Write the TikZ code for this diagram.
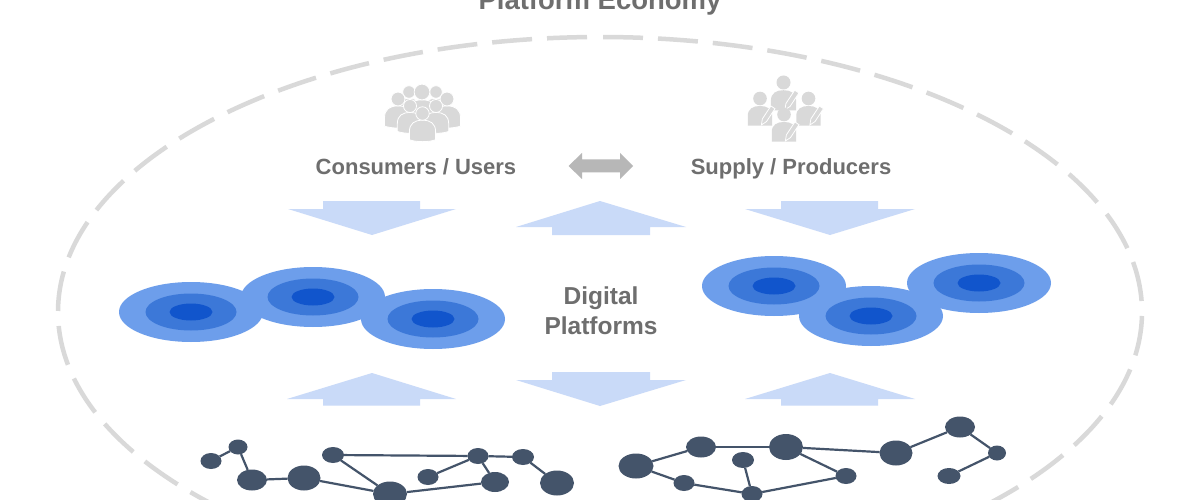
\documentclass[tikz,border=0pt]{standalone}
\usepackage{fontspec}
\setmainfont{Liberation Sans}
\usetikzlibrary{shapes.geometric}
\definecolor{ringa}{HTML}{6D9EEB}
\definecolor{ringb}{HTML}{3C78D8}
\definecolor{ringc}{HTML}{1155CC}
\definecolor{pale}{HTML}{C9DAF8}
\definecolor{lbl}{HTML}{6E6E6E}
\definecolor{icon}{HTML}{D9D9D9}
\definecolor{dbl}{HTML}{B7B7B7}
\definecolor{net}{HTML}{44546A}
\tikzset{
  ring/.style n args={3}{ellipse,fill=#1,minimum width=#2pt,minimum height=#3pt,inner sep=0pt,outer sep=0pt},
  hub/.style 2 args={ellipse,fill=net,minimum width=#1pt,minimum height=#2pt,inner sep=0pt,outer sep=0pt},
  link/.style={draw=net,line width=2.2pt},
  lab/.style={text=lbl,font=\bfseries\fontsize{22}{22}\selectfont,inner sep=0pt,anchor=base},
  biglab/.style={text=lbl,font=\bfseries\fontsize{24.5}{24.5}\selectfont,inner sep=0pt,anchor=base},
  blockarrow/.style={fill=pale},
  boundary/.style={draw=icon,line width=4.5pt},
  figure/.style={fill=icon,draw=white,line width=0.8pt},
  penstroke/.style={fill=icon,draw=white,line width=0.8pt}
}
\newcommand\platformdisc[3]{%
  \node[ring={ringa}{144}{60}] (#1a) at (#2,#3) {};
}
\newcommand\platformcore[3]{%
  \node[ring={ringb}{91}{37}] (#1b) at (#2,#3) {};
  \node[ring={ringc}{43}{17}] (#1c) at (#2,#3) {};
}
\newcommand\persona[3]{% x, y of head centre, head radius
  \begin{scope}[shift={(#1,#2)},scale=#3]
    \path[figure] (-2.05,4.1) -- (-2.05,2.9) .. controls (-2.05,1.5) and (-1.2,1.05) .. (0,1.05)
       .. controls (1.2,1.05) and (2.05,1.5) .. (2.05,2.9) -- (2.05,4.1) .. controls (1,4.5) and (-1,4.5) .. (-2.05,4.1) -- cycle;
    \path[figure] (0,0) circle (1.05);
  \end{scope}}
\newcommand\worker[3]{% x, y of head centre, head radius 
  \begin{scope}[shift={(#1,#2)},scale=#3]
    \path[fill=icon] (-1.8,4) -- (-1.8,2.6) .. controls (-1.8,1.5) and (-1,1.1) .. (0,1.1)
       .. controls (1,1.1) and (1.8,1.5) .. (1.8,2.6) -- (1.8,4) -- cycle;
    \path[fill=icon] (0,0) circle (1);
    \path[penstroke] (0.2,3.9) -- (0.35,3) -- (1.6,1.1) -- (2.2,1.5) -- (0.95,3.4) -- cycle;
  \end{scope}}
\begin{document}
\begin{tikzpicture}[x=1pt,y=-1pt]
\clip (0,0) rectangle (1200,500);
\fill[white] (0,0) rectangle (1200,500);

% outer dashed boundary
\draw[boundary,dash pattern=on 40pt off 15pt,dash phase=52pt] (600,37) arc[start angle=-90,delta angle=180,x radius=542,y radius=275];
\draw[boundary,dash pattern=on 40pt off 15pt,dash phase=42pt] (600,37) arc[start angle=-90,delta angle=-180,x radius=542,y radius=275];

\node[lab,font=\bfseries\fontsize{27.5}{27.5}\selectfont] (title) at (600,10) {Platform Economy};

% crowd icon
\persona{409}{92}{6}
\persona{436}{92}{6}
\persona{422}{92}{7.5}
\persona{398}{99}{6.6}
\persona{447}{99}{6.6}
\persona{410}{106}{6.2}
\persona{436}{106}{6.2}
\persona{422.5}{113.5}{6.4}

% producer icon
\worker{783.5}{82.5}{7}
\worker{760}{98.5}{6.8}
\worker{808.5}{98.5}{6.8}
\worker{784}{114.5}{6.8}

\node[lab] (consumers) at (416,175) {Consumers / Users};
\node[lab] (supply) at (791,175) {Supply / Producers};
\node[biglab] (digital) at (601,304) {Digital};
\node[biglab] (platforms) at (601,334) {Platforms};

% double arrow
\fill[dbl] (568.5,166) -- (582,153) -- (582,159.5) -- (620,159.5) -- (620,153) -- (633,166) -- (620,179) -- (620,172.5) -- (582,172.5) -- (582,179) -- cycle;

% block arrows
\fill[blockarrow] (323,201) -- (420,201) -- (420,209) -- (456,209) -- (372,235) -- (288,209) -- (323,209) -- cycle;
\fill[blockarrow] (781,201) -- (878,201) -- (878,209) -- (915,209) -- (830,235) -- (745,209) -- (781,209) -- cycle;
\fill[blockarrow] (600,201) -- (686,227) -- (650,227) -- (650,235) -- (552,235) -- (552,227) -- (516,227) -- cycle;
\fill[blockarrow] (372,373) -- (456,399) -- (420,399) -- (420,405.5) -- (323,405.5) -- (323,399) -- (287,399) -- cycle;
\fill[blockarrow] (830,373) -- (915,399) -- (878,399) -- (878,405.5) -- (781,405.5) -- (781,399) -- (745,399) -- cycle;
\fill[blockarrow] (552,372) -- (650,372) -- (650,380) -- (686,380) -- (600,406) -- (516,380) -- (552,380) -- cycle;

% platform discs
\platformdisc{p}{191}{312}
\platformdisc{q}{313}{297}
\platformdisc{r}{433}{319}
\platformdisc{s}{774}{286}
\platformdisc{t}{871}{316}
\platformdisc{u}{979}{283}
\platformcore{p}{191}{312}
\platformcore{q}{313}{297}
\platformcore{r}{433}{319}
\platformcore{s}{774}{286}
\platformcore{t}{871}{316}
\platformcore{u}{979}{283}

% left network
\node[hub={21}{16}] (a) at (211,461) {};
\node[hub={19}{15}] (b) at (238,447) {};
\node[hub={30}{21}] (c) at (252,480) {};
\node[hub={33}{25}] (d) at (304,478) {};
\node[hub={22}{16}] (e) at (333,455) {};
\node[hub={34}{25}] (f) at (390,494) {};
\node[hub={21}{16}] (g) at (428,477) {};
\node[hub={21}{16}] (h) at (478,456) {};
\node[hub={28}{20}] (i) at (495,482) {};
\node[hub={22}{16}] (j) at (523,457) {};
\node[hub={34}{25}] (k) at (557,483) {};
\draw[link] (a)--(b);
\draw[link] (b)--(c);
\draw[link] (c)--(d);
\draw[link] (d)--(f);
\draw[link] (e)--(f);
\draw[link] (e)--(h);
\draw[link] (g)--(h);
\draw[link] (h)--(i);
\draw[link] (h)--(j);
\draw[link] (j)--(k);
\draw[link] (f)--(i);

% right network
\node[hub={35}{25}] (A) at (636,466) {};
\node[hub={30}{21}] (B) at (701,447) {};
\node[hub={34}{26}] (C) at (786,447) {};
\node[hub={21}{16}] (D) at (684,483) {};
\node[hub={22}{16}] (E) at (743,460) {};
\node[hub={21}{16}] (F) at (752,494) {};
\node[hub={21}{16}] (G) at (846,476) {};
\node[hub={33}{25}] (H) at (896,453) {};
\node[hub={30}{21}] (I) at (960,427) {};
\node[hub={18}{15}] (J) at (997,453) {};
\node[hub={23}{16}] (K) at (949,476) {};
\draw[link] (A)--(B);
\draw[link] (B)--(C);
\draw[link] (C)--(H);
\draw[link] (C)--(G);
\draw[link] (G)--(F);
\draw[link] (E)--(F);
\draw[link] (A)--(D);
\draw[link] (D)--(F);
\draw[link] (H)--(I);
\draw[link] (I)--(J);
\draw[link] (J)--(K);
\end{tikzpicture}
\end{document}
